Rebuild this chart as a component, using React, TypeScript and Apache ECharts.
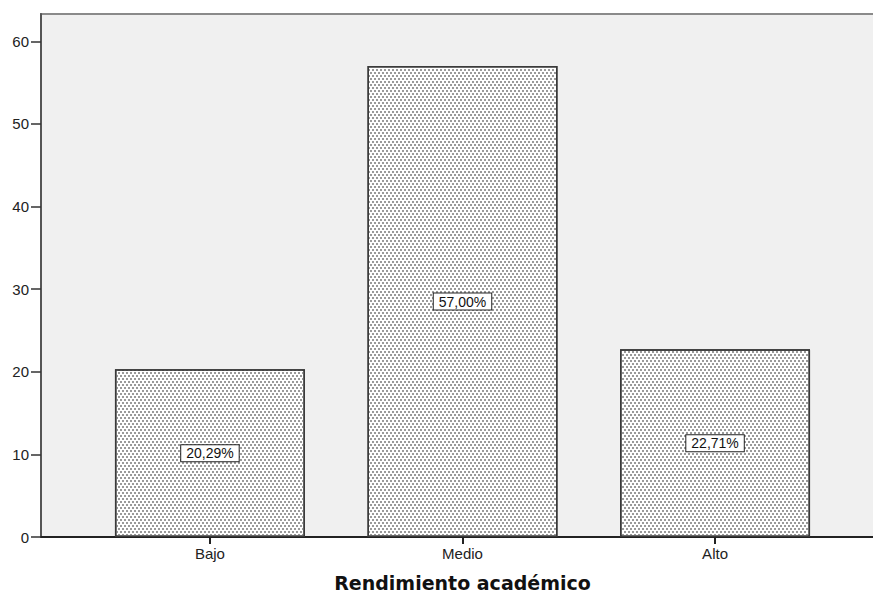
import React, { useEffect, useRef } from "react";
import * as echarts from "echarts";

const categories = ["Bajo", "Medio", "Alto"];
const percentages = [20.29, 57.0, 22.71];
const yTicks = [0, 10, 20, 30, 40, 50, 60];
const xAxisTitle = "Rendimiento académico";

export default function App() {
  const ref = useRef<HTMLDivElement>(null);
  useEffect(() => {
    if (!ref.current) return;
    const chart = echarts.init(ref.current, null, { renderer: "svg" });
    const font = "'Liberation Sans', Arial, sans-serif";
    chart.setOption({
      animation: false,
      grid: {
        left: 41,
        top: 14,
        bottom: 56,
        right: 0,
        containLabel: false,
        outerBoundsMode: "none",
        show: true,
        backgroundColor: "#f0f0f0",
        borderColor: "#8a8a8a",
        borderWidth: 2,
      },
      xAxis: {
        type: "value",
        min: 0.331,
        max: 3.669,
        splitLine: { show: false },
        axisLine: { show: true, lineStyle: { color: "#222", width: 2 } },
        axisTick: {
          show: true,
          customValues: [1, 2, 3],
          length: 7,
          lineStyle: { color: "#222", width: 2 },
        },
        axisLabel: {
          customValues: [1, 2, 3],
          formatter: (v: number) => categories[Math.round(v) - 1] ?? "",
          color: "#222",
          fontFamily: font,
          fontSize: 15,
          margin: 9,
        },
        name: xAxisTitle,
        nameLocation: "middle",
        nameGap: 36,
        nameTextStyle: {
          fontFamily: "'DejaVu Sans', sans-serif",
          fontSize: 19,
          fontWeight: "bold",
          color: "#111",
        },
      },
      yAxis: {
        type: "value",
        min: 0,
        max: 63.3,
        splitLine: { show: false },
        axisLine: { show: true, lineStyle: { color: "#555", width: 2 } },
        axisTick: {
          show: true,
          customValues: yTicks,
          length: 10,
          lineStyle: { color: "#333", width: 1.5 },
        },
        axisLabel: {
          customValues: yTicks,
          color: "#222",
          fontFamily: font,
          fontSize: 15,
          margin: 12,
        },
      },
      series: [
        {
          type: "bar",
          data: categories.map((c, i) => [i + 1, percentages[i]]),
          barWidth: 190,
          itemStyle: {
            color: "#ffffff",
            borderColor: "#3a3a3a",
            borderWidth: 1.5,
            decal: {
              symbol: "rect",
              symbolSize: 1,
              color: "#9a9a9a",
              dashArrayX: [
                [2, 2],
                [0, 2, 2, 0],
              ],
              dashArrayY: [2, 1],
              rotation: 0,
            },
          },
          label: {
            show: true,
            position: "inside",
            formatter: (p: any) => p.value[1].toFixed(2).replace(".", ",") + "%",
            backgroundColor: "#ffffff",
            borderColor: "#222",
            borderWidth: 1,
            padding: [1, 5, 1, 5],
            color: "#111",
            fontFamily: font,
            fontSize: 14,
          },
        },
      ],
    });
    return () => chart.dispose();
  }, []);
  return (
    <div style={{ position: "fixed", left: 0, top: 0, width: 873, height: 593, overflow: "hidden", background: "#fff" }}>
      <div ref={ref} style={{ width: 884, height: 593 }} />
    </div>
  );
}
